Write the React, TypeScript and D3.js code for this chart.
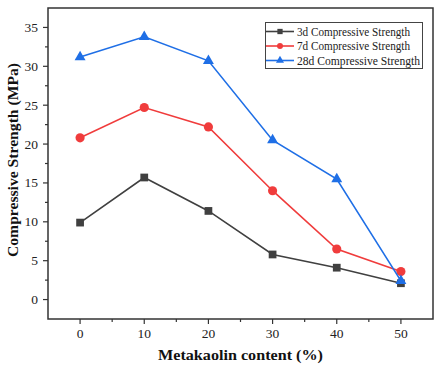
import * as d3 from "d3";

const content = [0, 10, 20, 30, 40, 50];
const strength3d = [9.9, 15.7, 11.4, 5.8, 4.1, 2.1];
const strength7d = [20.8, 24.7, 22.2, 14.0, 6.5, 3.6];
const strength28d = [31.2, 33.8, 30.7, 20.5, 15.5, 2.4];
const seriesNames = ["3d Compressive Strength", "7d Compressive Strength", "28d Compressive Strength"];
const xTicks = [0, 10, 20, 30, 40, 50];
const yTicks = [0, 5, 10, 15, 20, 25, 30, 35];

const colors = ["#404040", "#f03c3c", "#1f6fe6"];
const shapes = [d3.symbolSquare, d3.symbolCircle, d3.symbolTriangle];
const font = "'Liberation Serif', 'Times New Roman', serif";

export default function App() {
  const width = 442;
  const height = 369;
  const left = 48, right = 433, top = 8, bottom = 319;

  const x = d3.scaleLinear().domain([-5, 55]).range([left, right]);
  const y = d3.scaleLinear().domain([-2.5, 37.5]).range([bottom, top]);

  const series = [strength3d, strength7d, strength28d];
  const line = d3.line<number>().x((_, i) => x(content[i])).y(d => y(d));
  const sizes = [60, 66, 52];

  const xMinor = d3.range(5, 55, 10);
  const yMinor = d3.range(2.5, 37.5, 5);

  return (
    <svg width={width} height={height} style={{ position: "absolute", left: 0, top: 0 }}>
      <rect width={width} height={height} fill="#fff" />
      {/* lines and markers */}
      {series.map((s, k) => (
        <g key={k}>
          <path d={line(s) || ""} fill="none" stroke={colors[k]} strokeWidth={1.6} />
          {s.map((v, i) => (
            <path
              key={i}
              transform={`translate(${x(content[i])},${y(v)})`}
              d={d3.symbol(shapes[k], sizes[k])() || ""}
              fill={colors[k]}
            />
          ))}
        </g>
      ))}
      {/* frame */}
      <rect x={left} y={top} width={right - left} height={bottom - top} fill="none" stroke="#333" strokeWidth={1.5} />
      {/* x ticks */}
      {xTicks.map(t => (
        <g key={t}>
          <line x1={x(t)} x2={x(t)} y1={bottom} y2={bottom + 5} stroke="#333" strokeWidth={1.2} />
          <text x={x(t)} y={338} textAnchor="middle" fontFamily={font} fontSize={13.5} fill="#222">{t}</text>
        </g>
      ))}
      {xMinor.map(t => (
        <line key={t} x1={x(t)} x2={x(t)} y1={bottom} y2={bottom + 3} stroke="#333" strokeWidth={1.2} />
      ))}
      {/* y ticks */}
      {yTicks.map(t => (
        <g key={t}>
          <line x1={left - 5} x2={left} y1={y(t)} y2={y(t)} stroke="#333" strokeWidth={1.2} />
          <text x={left - 10} y={y(t) + 4.5} textAnchor="end" fontFamily={font} fontSize={13.5} fill="#222">{t}</text>
        </g>
      ))}
      {yMinor.map(t => (
        <line key={t} x1={left - 3} x2={left} y1={y(t)} y2={y(t)} stroke="#333" strokeWidth={1.2} />
      ))}
      {/* axis titles */}
      <text x={240.5} y={360} textAnchor="middle" fontFamily={font} fontSize={15} fontWeight="bold" fill="#111"
        textLength={165} lengthAdjust="spacingAndGlyphs">
        Metakaolin content (%)
      </text>
      <text
        transform={`translate(18,160) rotate(-90)`}
        textAnchor="middle"
        fontFamily={font}
        fontSize={14.5}
        fontWeight="bold"
        fill="#111"
        textLength={194}
        lengthAdjust="spacingAndGlyphs"
      >
        Compressive Strength (MPa)
      </text>
      {/* legend */}
      <rect x={265.5} y={22.5} width={157} height={46} fill="#fff" stroke="#444" strokeWidth={1} />
      {seriesNames.map((n, k) => {
        const ly = 31.5 + k * 14.5;
        return (
          <g key={n}>
            <line x1={266} x2={294} y1={ly} y2={ly} stroke={colors[k]} strokeWidth={1.6} />
            <path transform={`translate(280,${ly})`} d={d3.symbol(shapes[k], 28)() || ""} fill={colors[k]} />
            <text x={297} y={ly + 4} fontFamily={font} fontSize={12} fill="#222" textLength={k === 2 ? 123 : 113} lengthAdjust="spacingAndGlyphs">{n}</text>
          </g>
        );
      })}
    </svg>
  );
}
